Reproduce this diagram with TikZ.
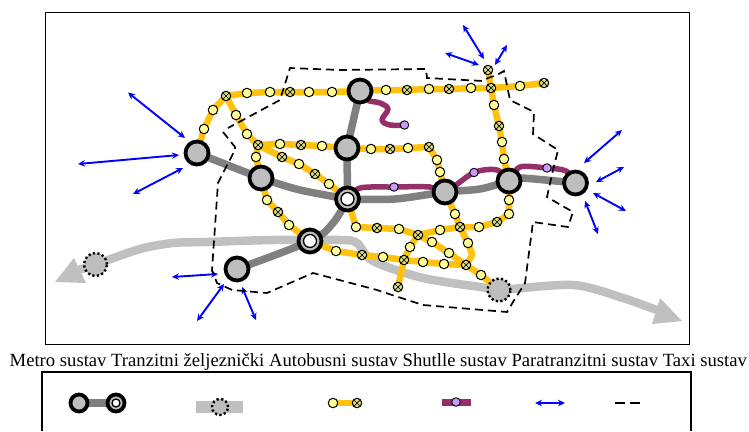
\documentclass[tikz,border=0pt]{standalone}
\usepackage{fontspec}
\setmainfont{Liberation Serif}
\usetikzlibrary{arrows.meta,backgrounds}
\definecolor{railgray}{HTML}{C0C0C0}
\definecolor{metrogray}{HTML}{808080}
\definecolor{nodegray}{HTML}{BEBEBE}
\definecolor{busyellow}{HTML}{FFC20E}
\definecolor{stopyellow}{HTML}{FFFF99}
\definecolor{xstopyellow}{HTML}{DEDE7A}
\definecolor{shuttle}{HTML}{93306A}
\definecolor{shuttledot}{HTML}{CC99FF}
\newcommand{\routeline}[3]{\draw[#1] (#2.center) \foreach \n in {#3} { -- (\n.center)};}
\tikzset{
  metro/.style={circle,draw=black,line width=3.8pt,fill=nodegray,minimum size=#1,inner sep=0pt},
  metro/.default=23pt,
  interinner/.style={circle,draw=black,line width=1.3pt,fill=white,minimum size=#1,inner sep=0pt},
  interinner/.default=13pt,
  railstop/.style={circle,draw=black,line width=2.4pt,dash pattern=on 2.2pt off 2.4pt,fill=nodegray,minimum size=#1,inner sep=0pt},
  railstop/.default=23pt,
  stopnode/.style={circle,draw=black,line width=1pt,fill=stopyellow,minimum size=9.5pt,inner sep=0pt},
  xstop/.style={circle,draw=black,line width=1pt,fill=xstopyellow,minimum size=9.5pt,inner sep=0pt,
    path picture={\draw[line width=.7pt] (path picture bounding box.north west)--(path picture bounding box.south east)
      (path picture bounding box.north east)--(path picture bounding box.south west);}},
  shuttlestop/.style={circle,draw=black,line width=.9pt,fill=shuttledot,minimum size=8.5pt,inner sep=0pt},
  railline/.style={draw=railgray,line width=8.5pt,line join=round},
  metroline/.style={draw=metrogray,line width=7.5pt,line join=round},
  busline/.style={draw=busyellow,line width=6.5pt,line join=round,rounded corners=2.5pt},
  shuttleline/.style={draw=shuttle,line width=5.5pt,line cap=round,line join=round},
  paraline/.style={draw=blue,line width=1.9pt,{Stealth[length=7pt,width=6.5pt]}-{Stealth[length=7pt,width=6.5pt]}},
  taxiline/.style={draw=black,line width=1.7pt,dash pattern=on 8pt off 5pt},
  frameline/.style={draw=black,line width=1pt},
  capt/.style={font=\fontsize{18.65pt}{20pt}\selectfont,inner sep=0pt,anchor=base west},
}
\begin{document}
\begin{tikzpicture}[x=1pt,y=-1pt]
\useasboundingbox (0,0) rectangle (749,431);
\draw[frameline] (45,12) rectangle (689,344);

% Metro stations
\foreach \n/\x/\y in {A/197/153,B/261/178,C/360/91,D/347/148,E/347.5/199,F/310/241,G/237/269,H/445/192,I/509/181,J/575.5/183}
  \node[metro] (\n) at (\x,\y) {};
\node[interinner] (Ei) at (E) {};
\node[interinner] (Fi) at (F) {};
% Rail stations
\node[railstop] (K) at (95.5,264.5) {};
\node[railstop] (L) at (499,290) {};

% Plain stops
\foreach \n/\x/\y in {a1/204/129,a2/213/110,b1/247/93,b2/270/92,b3/309/92,b4/332/92,c1/386/90,c2/429/89,c3/471/88,c4/520/86,
  d1/494/105,d2/502/142,d3/504/159,e1/236/115,e2/247/134,f1/280/144,f2/322/146,g1/371/149,g2/408/148,g3/437/160,g4/440/172,
  h1/299/164,h2/329/184,i1/256/157,j1/267/200,j2/289/225,k1/356/227,k2/399/229,k3/440/230,k4/479/227,k5/509/214,k6/509/200,
  m1/455/214,m2/468/243,m3/481/275,n1/336/251,n2/383/257,n3/423/262,n4/444/264,o1/432/242,o2/449/253,o3/410/247}
  \node[stopnode] (\n) at (\x,\y) {};
% Crossed stops
\foreach \n/\x/\y in {xa/226/96,xb/290/92,xc/407/90,xd/449/89,xe/491/88,xf/544/83,xg/488/70,xh/499/126,xi/258/145,xj/301/145,
  xk/390/149,xl/429/147,xm/282/157,xn/315/174,xo/278/212,xp/377/228,xq/418/235,xr/460/227,xs/497/222,xt/466/265,xu/362/255,xv/404/260,xw/398/287}
  \node[xstop] (\n) at (\x,\y) {};
% Shuttle stops
\foreach \n/\x/\y in {p1/404.5/125,p2/394/187,p3/474/172.5,p4/547/168}
  \node[shuttlestop] (\n) at (\x,\y) {};

% Helper coordinates
\foreach \n/\x/\y in {r0/72/272,r1/140/249,r2/173/243,r3/207/242,r4/273/240,r5/340/240,r6/357/243,r7/373/261,r8/423/278,r9/487/288,
  r10/573/285,r11/623/298,r12/662/312,
  q1/367/100,q2/380/103,q3/388/109,q4/382/120,q5/390/125,
  s1/360/188,s2/430/187,s3/497/170,s4/520/167,s5/566/171,
  t1/333/223,t2/395/199,t3/480/189,t4/521/178,t5/300/190,u1/472.5/255}
  \coordinate (\n) at (\x,\y);

\begin{scope}[on background layer]
  % Rail
  \draw[railline] plot[smooth,tension=.5] coordinates {(r0) (K.center) (r1) (r2) (r3) (r4) (r5) (r6) (r7) (r8) (r9) (L.center) (r10) (r11) (r12)};
  \coordinate (la) at (55,282); \coordinate (lb) at (74,258); \coordinate (lc) at (86,283);
  \coordinate (ra) at (682,321); \coordinate (rb) at (660,298); \coordinate (rc) at (652,324);
  \fill[railgray] (la) -- (lb) -- (lc) -- cycle;
  \fill[railgray] (ra) -- (rb) -- (rc) -- cycle;
  % Bus
  \routeline{busline}{A}{a1,a2,xa,b1,b2,xb,b3,b4,C,c1,xc,c2,xd,c3,xe,c4,xf}
  \routeline{busline}{xg}{xe,d1,xh,d2,d3,I}
  \routeline{busline}{xa}{e1,e2,xi,f1,xj,f2,D,g1,xk,g2,xl,g3,g4,H}
  \routeline{busline}{xi}{xm,h1,xn,h2,E}
  \routeline{busline}{xi}{i1,B,j1,xo,j2,F}
  \routeline{busline}{E}{k1,xp,k2,xq,k3,xr,k4,xs,k5,k6,I}
  \routeline{busline}{H}{m1,xr,m2,u1,xt,m3,L}
  \routeline{busline}{F}{n1,xu,n2,xv,n3,n4,xt}
  \routeline{busline}{xq}{o1,o2,xt}
  \routeline{busline}{xq}{o3,xv,xw}
  % Shuttle
  \draw[shuttleline] plot[smooth,tension=.6] coordinates {(C.center) (q1) (q2) (q3) (q4) (q5) (p1.center)};
  \draw[shuttleline] plot[smooth,tension=.5] coordinates {(E.center) (s1) (p2.center) (s2) (H.center) (p3.center) (s3) (I.center)};
  \draw[shuttleline] plot[smooth,tension=.5] coordinates {(I.center) (s4) (p4.center) (s5) (J.center)};
  % Metro
  \draw[metroline] plot[smooth,tension=.4] coordinates {(A.center) (B.center) (t5) (E.center)};
  \routeline{metroline}{C}{D,E}
  \draw[metroline] plot[smooth,tension=.6] coordinates {(E.center) (t1) (F.center) (G.center)};
  \draw[metroline] plot[smooth,tension=.5] coordinates {(E.center) (t2) (H.center) (t3) (I.center) (t4) (J.center)};
\end{scope}

% Paratransit
\foreach \ax/\ay/\bx/\by [count=\i] in {128/92.5/185/138,78/164/179/155,133/194/183/168,172/277/218/274,197/321/224/284,256/320/242/287,
  463/25/484/59,445/53/479/65,507/45/495/65,622/130/584/163,624/167/596/182,593/193/626/211,585/201/598/234}{
  \coordinate (pa\i) at (\ax,\ay);
  \coordinate (pb\i) at (\bx,\by);
  \draw[paraline] (pa\i) -- (pb\i);
}

% Taxi boundary
\foreach \n/\x/\y in {w1/223/132,w2/235/147,w3/235/150,w4/223/173,w5/218/183,w6/212/270,w7/217/283,w8/232/290,w9/267/293,w10/313/273,w11/377/290,
  w12/392/295,w13/423/305,w14/507/312,w15/513/302,w16/525/283,w17/533/222,w18/568/227,w19/573/212,w20/547/197,w21/553/170,w22/558/150,w23/533/134,
  w24/534/112,w25/510/100,w26/504/71,w27/497/75,w28/488/78,w29/483/81,w30/427/78,w31/426/69,w32/340/70,w33/290/68,w34/280/100,w35/228/128}
  \coordinate (\n) at (\x,\y);
\draw[taxiline] (w1) \foreach \i in {2,...,35}{ -- (w\i)};

% Caption
\node[capt] (captiontext) at (9.5,366.5) {Metro sustav Tranzitni željeznički Autobusni sustav Shutlle sustav Paratranzitni sustav Taxi sustav};

% Legend
\coordinate (fa) at (42,431); \coordinate (fb) at (42,372); \coordinate (fc) at (691,372); \coordinate (fd) at (691,431);
\draw[draw=black,line width=1.4pt] (fa) -- (fb) -- (fc) -- (fd);
\node[metro=17pt] (lm1) at (79,403) {};
\node[metro=17pt] (lm2) at (116,403) {};
\node[interinner=8pt] (lm2i) at (lm2) {};
\node[railstop=16pt] (lr) at (220,407) {};
\coordinate (lra) at (196,407); \coordinate (lrb) at (243,407);
\node[stopnode] (ly1) at (333,403) {};
\node[xstop] (ly2) at (357,403) {};
\node[shuttlestop] (lp) at (456,402) {};
\coordinate (lpa) at (442,402); \coordinate (lpb) at (471,402);
\coordinate (lba) at (535,403); \coordinate (lbb) at (565,403);
\coordinate (lta) at (615,403); \coordinate (ltb) at (640,403);
\begin{scope}[on background layer]
  \draw[metroline] (lm1.center) -- (lm2.center);
  \draw[draw=railgray,line width=12pt] (lra) -- (lrb);
  \draw[draw=busyellow,line width=6.5pt] (ly1.center) -- (ly2.center);
  \draw[draw=shuttle,line width=7pt] (lpa) -- (lpb);
\end{scope}
\draw[paraline] (lba) -- (lbb);
\draw[draw=black,line width=1.7pt,dash pattern=on 10pt off 5pt] (lta) -- (ltb);
\end{tikzpicture}
\end{document}
